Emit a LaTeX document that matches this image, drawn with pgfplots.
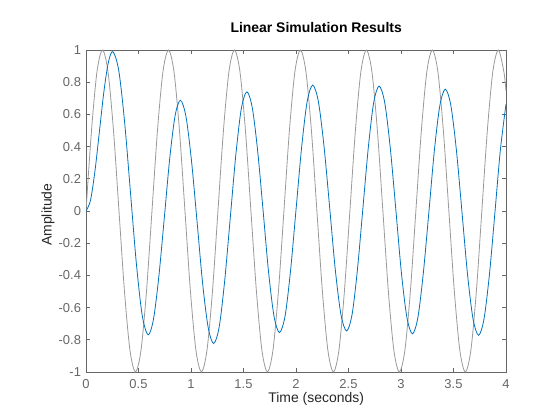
\documentclass[border=0pt]{standalone}
\usepackage{fontspec}
\setmainfont{Liberation Sans}
\usepackage{pgfplots}
\pgfplotsset{compat=1.18}
\definecolor{mblue}{rgb}{0,0.447,0.741}
\definecolor{mgray}{rgb}{0.6,0.6,0.6}
\definecolor{axgray}{rgb}{0.4,0.4,0.4}
\definecolor{labgray}{rgb}{0.15,0.15,0.15}
\begin{document}
\begin{tikzpicture}
\useasboundingbox (0,0) rectangle (560bp,420bp);
\begin{axis}[
  at={(86bp,48bp)}, anchor=south west,
  width=420bp, height=322bp, scale only axis,
  xmin=0, xmax=4, ymin=-1, ymax=1,
  xtick={0,0.5,1,1.5,2,2.5,3,3.5,4},
  xticklabels={0,0.5,1,1.5,2,2.5,3,3.5,4},
  ytick={-1,-0.8,-0.6,-0.4,-0.2,0,0.2,0.4,0.6,0.8,1},
  yticklabels={-1,-0.8,-0.6,-0.4,-0.2,0,0.2,0.4,0.6,0.8,1},
  tick align=inside, major tick length=4bp,
  axis line style={axgray, line width=0.6bp},
  tick style={axgray, line width=0.6bp},
  tick label style={font=\fontsize{13}{15}\selectfont, text=axgray},
  xticklabel style={yshift=-4bp},
  yticklabel style={xshift=-1.5bp},
  title={\bfseries Linear Simulation Results},
  title style={at={(axis description cs:0.548,1.0528)}, anchor=center, font=\fontsize{14}{17}\selectfont, text=black},
  xlabel={Time (seconds)},
  xlabel style={at={(axis description cs:0.548,-0.0839)}, anchor=center, font=\fontsize{14}{17}\selectfont, text=labgray},
  ylabel={Amplitude},
  ylabel style={at={(axis description cs:-0.0905,0.4885)}, anchor=center, rotate=0, font=\fontsize{14}{17}\selectfont, text=labgray},
]
\addplot[mgray, line width=0.8bp, smooth] table {
0 0
0.0524 0.5
0.1047 0.866
0.1571 1
0.2094 0.866
0.2618 0.5
0.3142 0
0.3665 -0.5
0.4189 -0.866
0.4712 -1
0.5236 -0.866
0.5760 -0.5
0.6283 0
0.6807 0.5
0.7330 0.866
0.7854 1
0.8378 0.866
0.8901 0.5
0.9425 0
0.9948 -0.5
1.0472 -0.866
1.0996 -1
1.1519 -0.866
1.2043 -0.5
1.2566 0
1.3090 0.5
1.3614 0.866
1.4137 1
1.4661 0.866
1.5184 0.5
1.5708 0
1.6232 -0.5
1.6755 -0.866
1.7279 -1
1.7802 -0.866
1.8326 -0.5
1.8850 0
1.9373 0.5
1.9897 0.866
2.0420 1
2.0944 0.866
2.1468 0.5
2.1991 0
2.2515 -0.5
2.3038 -0.866
2.3562 -1
2.4086 -0.866
2.4609 -0.5
2.5133 0
2.5656 0.5
2.6180 0.866
2.6704 1
2.7227 0.866
2.7751 0.5
2.8274 0
2.8798 -0.5
2.9322 -0.866
2.9845 -1
3.0369 -0.866
3.0892 -0.5
3.1416 0
3.1940 0.5
3.2463 0.866
3.2987 1
3.3510 0.866
3.4034 0.5
3.4558 0
3.5081 -0.5
3.5605 -0.866
3.6128 -1
3.6652 -0.866
3.7176 -0.5
3.7699 0
3.8223 0.5
3.8746 0.866
3.9270 1
3.9794 0.866
4.0 0.745
};
\addplot[mblue, line width=0.8bp, smooth] table {
0 0
0.0427 0.066
0.0853 0.248
0.128 0.495
0.1707 0.743
0.2133 0.924
0.256 0.990
0.312 0.872
0.368 0.550
0.424 0.111
0.480 -0.329
0.536 -0.651
0.592 -0.769
0.643 -0.671
0.694 -0.405
0.746 -0.041
0.797 0.324
0.848 0.590
0.899 0.688
0.952 0.587
1.005 0.310
1.058 -0.068
1.110 -0.445
1.163 -0.722
1.216 -0.823
1.269 -0.718
1.321 -0.432
1.374 -0.042
1.427 0.349
1.479 0.635
1.532 0.740
1.584 0.640
1.636 0.366
1.688 -0.008
1.739 -0.381
1.791 -0.655
1.843 -0.755
1.896 -0.652
1.948 -0.371
2.001 0.014
2.054 0.398
2.106 0.679
2.159 0.782
2.213 0.680
2.267 0.400
2.321 0.019
2.374 -0.363
2.428 -0.643
2.482 -0.745
2.534 -0.643
2.585 -0.365
2.637 0.016
2.689 0.396
2.740 0.674
2.792 0.776
2.845 0.673
2.898 0.391
2.951 0.007
3.003 -0.378
3.056 -0.660
3.109 -0.763
3.161 -0.661
3.213 -0.383
3.266 -0.003
3.318 0.377
3.370 0.655
3.422 0.757
3.475 0.655
3.528 0.375
3.581 -0.008
3.633 -0.390
3.686 -0.670
3.739 -0.772
3.791 -0.669
3.843 -0.389
3.895 -0.006
3.946 0.377
4.0 0.664
};
\end{axis}
\end{tikzpicture}
\end{document}
